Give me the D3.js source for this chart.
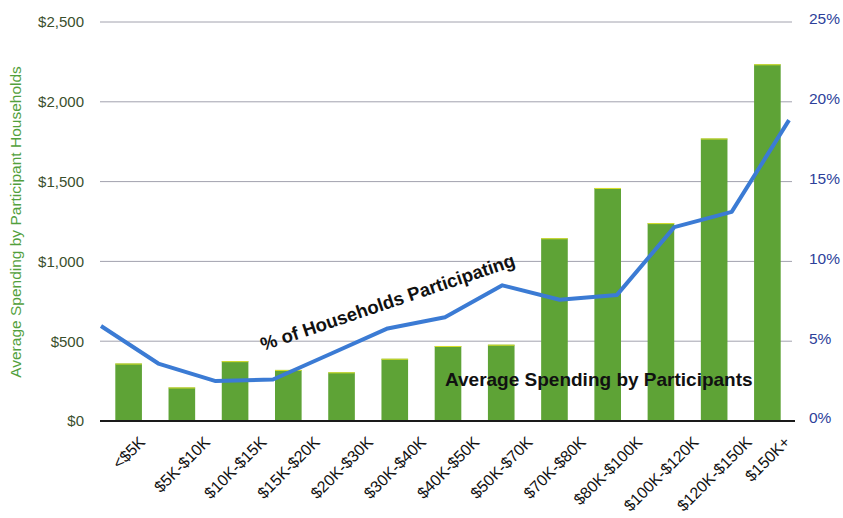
<!DOCTYPE html>
<html>
<head>
<meta charset="utf-8">
<script src="https://cdn.jsdelivr.net/npm/d3@7"></script>
<style>
  html, body { margin: 0; padding: 0; background: #fff; }
  svg { display: block; font-family: "Liberation Sans", Arial, Helvetica, sans-serif; }
</style>
</head>
<body>
<svg id="chart" width="843" height="518"></svg>
<script>
// Household income brackets
const categories = ["<$5K", "$5K-$10K", "$10K-$15K", "$15K-$20K", "$20K-$30K", "$30K-$40K",
  "$40K-$50K", "$50K-$70K", "$70K-$80K", "$80K-$100K", "$100K-$120K", "$120K-$150K", "$150K+"];
// Average spending by participant households ($)
const spending = [360, 210, 375, 320, 305, 390, 470, 478, 1145, 1460, 1240, 1770, 2235];
// Share of households participating (%)
const participation = [5.95, 3.6, 2.5, 2.6, 4.2, 5.8, 6.5, 8.5, 7.6, 7.9, 12.15, 13.1, 18.85];
// Axis ticks
const spendTicks = [0, 500, 1000, 1500, 2000, 2500];
const pctTicks = [0, 5, 10, 15, 20, 25];

const svg = d3.select("#chart");
const plotLeft = 100, plotRight = 792, plotTop = 22, plotBottom = 421;

const x = d3.scaleBand().domain(categories).range([102, 794]).paddingInner(0.5).paddingOuter(0.25);
const xLine = d3.scalePoint().domain(categories).range([101, 789]);
const y = d3.scaleLinear().domain([0, 2500]).range([plotBottom, plotTop]);
const y2 = d3.scaleLinear().domain([0, 25]).range([plotBottom, plotTop]);

// Horizontal gridlines
svg.append("g").selectAll("line").data(spendTicks.filter(d => d > 0)).join("line")
  .attr("x1", plotLeft).attr("x2", plotRight)
  .attr("y1", d => y(d)).attr("y2", d => y(d))
  .attr("stroke", "#a2a2ae").attr("stroke-width", 1);

// Bars
const bars = svg.append("g");
bars.selectAll("rect").data(spending).join("rect")
  .attr("x", (d, i) => x(categories[i]))
  .attr("width", x.bandwidth())
  .attr("y", d => y(d))
  .attr("height", d => y(0) - y(d))
  .attr("fill", "#5ea336");
bars.selectAll("line").data(spending).join("line")
  .attr("x1", (d, i) => x(categories[i]))
  .attr("x2", (d, i) => x(categories[i]) + x.bandwidth())
  .attr("y1", d => y(d) + 0.5).attr("y2", d => y(d) + 0.5)
  .attr("stroke", "#d9df2a").attr("stroke-width", 1);

// Baseline
svg.append("line")
  .attr("x1", plotLeft).attr("x2", 795)
  .attr("y1", y(0)).attr("y2", y(0))
  .attr("stroke", "#1a1a1a").attr("stroke-width", 2);

// Participation line
const line = d3.line()
  .x((d, i) => xLine(categories[i]))
  .y(d => y2(d));
svg.append("path").datum(participation)
  .attr("d", line)
  .attr("fill", "none")
  .attr("stroke", "#3b7bd4")
  .attr("stroke-width", 4)
  .attr("stroke-linejoin", "round");

// Left axis
const gl = svg.append("g").attr("transform", `translate(${plotLeft},0)`)
  .call(d3.axisLeft(y).tickValues(spendTicks)
    .tickFormat(d => "$" + d3.format(",")(d)).tickSize(0).tickPadding(16));
gl.select(".domain").remove();
gl.selectAll("text").attr("font-size", 15).attr("fill", "#3a4f2c")
  .attr("font-family", "Liberation Sans, Arial, sans-serif");

// Right axis
const gr = svg.append("g").attr("transform", `translate(${plotRight},-3)`)
  .call(d3.axisRight(y2).tickValues(pctTicks)
    .tickFormat(d => d + "%").tickSize(0).tickPadding(17));
gr.select(".domain").remove();
gr.selectAll("text").attr("font-size", 15.5).attr("fill", "#2d3f9a")
  .attr("font-family", "Liberation Sans, Arial, sans-serif");

// Bottom axis with rotated labels
const gb = svg.append("g").attr("transform", `translate(0,${plotBottom})`)
  .call(d3.axisBottom(x).tickSize(0));
gb.select(".domain").remove();
const capH = 16 * 0.72;
gb.selectAll("text")
  .attr("font-size", 16).attr("fill", "#111")
  .attr("font-family", "Liberation Sans, Arial, sans-serif")
  .attr("text-anchor", "end")
  .attr("dy", 0)
  .each(function () {
    const L = this.getComputedTextLength();
    const ex = 0.3536 * (L + capH);
    const ey = 14 + 0.7071 * capH;
    d3.select(this).attr("x", ex).attr("y", ey)
      .attr("transform", `rotate(-45,${ex},${ey})`);
  });

// Left axis title
svg.append("text")
  .attr("transform", "translate(21,222) rotate(-90)")
  .attr("text-anchor", "middle")
  .attr("font-size", 15.5)
  .attr("fill", "#52a03c")
  .text("Average Spending by Participant Households");

// Series annotations
svg.append("text")
  .attr("transform", "translate(263,351) rotate(-18.6)")
  .attr("font-size", 18.5).attr("font-weight", "bold").attr("fill", "#111")
  .text("% of Households Participating");
svg.append("text")
  .attr("x", 445).attr("y", 386)
  .attr("font-size", 19).attr("font-weight", "bold").attr("fill", "#111")
  .text("Average Spending by Participants");
</script>
</body>
</html>
